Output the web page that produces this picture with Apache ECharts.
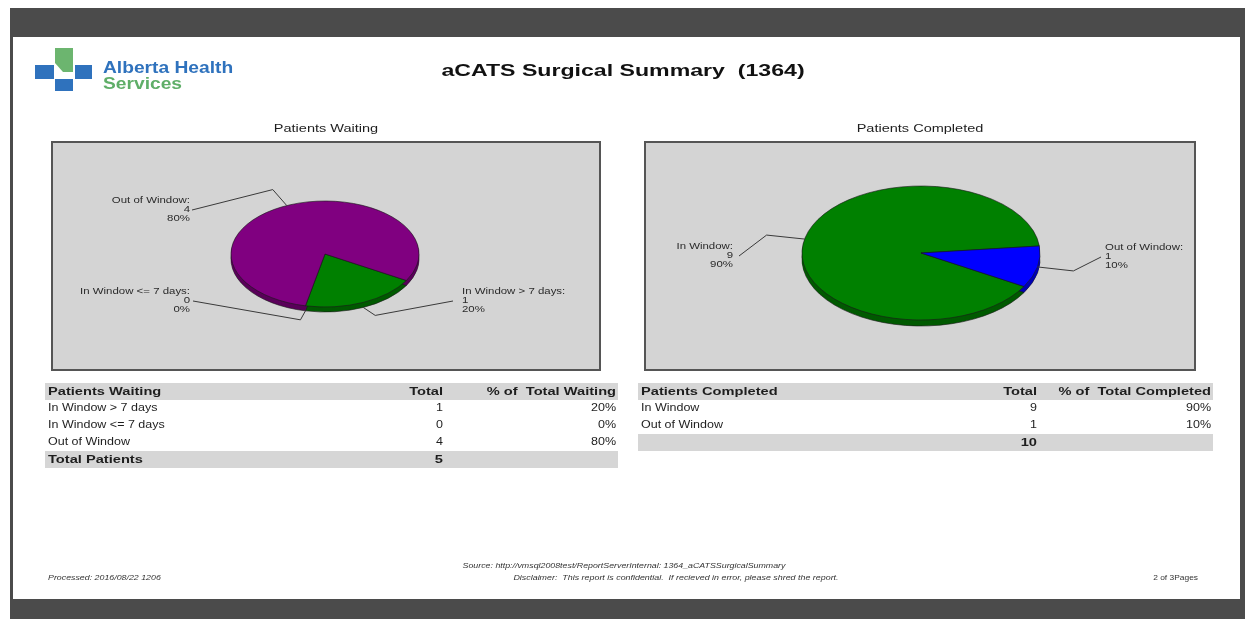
<!DOCTYPE html>
<html>
<head>
<meta charset="utf-8">
<title>aCATS Surgical Summary</title>
<script src="https://cdn.jsdelivr.net/npm/echarts@6/dist/echarts.min.js"></script>
<style>
html, body { margin: 0; padding: 0; background: #fff; }
#main { width: 1245px; height: 619px; }
</style>
</head>
<body>
<div id="main"></div>
<script>
// report values
var waitingNames = ['In Window > 7 days', 'In Window <= 7 days', 'Out of Window'];
var waitingValues = [1, 0, 4];
var completedNames = ['In Window', 'Out of Window'];
var completedValues = [9, 1];

// slice colours
var waitingColors = ['#008000', '#808080', '#800080'];
var completedColors = ['#008000', '#0000ff'];

var FONT = 'Liberation Sans, Arial, sans-serif';
var SX = 1.25; // the page scan is stretched sideways

// pie layout (screen coords), leader knee offsets and label anchors
var waitingPie = {
	cx: 325, cy: 254, rx: 94, ry: 53, depth: 5, start: 30,
	knee: [[12, 8], [-5, 9], [-14, -16]],
	anchor: [[453, 301], [193, 301], [192, 210]],
	textX: [462, 190, 190]
};
var completedPie = {
	cx: 921, cy: 253, rx: 119, ry: 67, depth: 6, start: 30,
	knee: [[-38, -4], [36, 4]],
	anchor: [[739, 256], [1101, 257]],
	textX: [733, 1105]
};

function sum(arr) {
	var s = 0;
	for (var i = 0; i < arr.length; i++) s += arr[i];
	return s;
}

function darken(hex, k) {
	var n = parseInt(hex.slice(1), 16);
	var r = Math.round(((n >> 16) & 255) * k), g = Math.round(((n >> 8) & 255) * k), b = Math.round((n & 255) * k);
	return 'rgb(' + r + ',' + g + ',' + b + ')';
}

// 3d-ish elliptical pie, one data item per slice
function pieRender(cfg, names, values, colors) {
	var total = sum(values);
	return function (params, api) {
		var i = params.dataIndex;
		var v = api.value(0);
		var before = 0;
		for (var k = 0; k < i; k++) before += values[k];
		var a0 = cfg.start * Math.PI / 180 + before / total * Math.PI * 2;
		var a1 = a0 + v / total * Math.PI * 2;
		var ratio = cfg.ry / cfg.rx;
		var children = [];
		if (a1 > a0) {
			for (var d = cfg.depth; d >= 1; d--) {
				children.push({
					type: 'sector', x: cfg.cx, y: cfg.cy + d, scaleY: ratio, z2: 1,
					shape: { cx: 0, cy: 0, r: cfg.rx, r0: 0, startAngle: a0, endAngle: a1, clockwise: true },
					style: { fill: darken(colors[i], 0.7), stroke: d === cfg.depth ? '#1a1a1a' : null, lineWidth: 0.8, strokeNoScale: true }
				});
			}
			children.push({
				type: 'sector', x: cfg.cx, y: cfg.cy, scaleY: ratio, z2: 10,
				shape: { cx: 0, cy: 0, r: cfg.rx, r0: 0, startAngle: a0, endAngle: a1, clockwise: true },
				style: { fill: colors[i], stroke: '#1a1a1a', lineWidth: 0.8, strokeNoScale: true }
			});
		}
		// leader line + label
		var m = (a0 + a1) / 2;
		var ex = cfg.cx + cfg.rx * Math.cos(m);
		var ey = cfg.cy + cfg.ry * Math.sin(m) + (Math.sin(m) > 0.5 ? cfg.depth : 0);
		var kx = ex + cfg.knee[i][0], ky = ey + cfg.knee[i][1];
		children.push({
			type: 'polyline', z2: 20,
			shape: { points: [[ex, ey], [kx, ky], cfg.anchor[i]] },
			style: { stroke: '#3a3a3a', lineWidth: 1, fill: null }
		});
		var right = cfg.textX[i] < cfg.anchor[i][0];
		children.push({
			type: 'text', x: cfg.textX[i], y: cfg.anchor[i][1], scaleX: 1.27, z2: 20,
			style: {
				text: names[i] + ':\n' + v + '\n' + Math.round(v / total * 100) + '%',
				x: 0, y: 0, align: right ? 'right' : 'left', verticalAlign: 'middle',
				fontFamily: FONT, fontSize: 9, lineHeight: 9, fill: '#2a2a2a'
			}
		});
		return { type: 'group', children: children };
	};
}

function txt(x, y, s, o) {
	o = o || {};
	return {
		type: 'text', x: x, y: y, scaleX: o.sx || SX, z: 5,
		style: {
			text: s, align: o.align || 'left', verticalAlign: 'middle',
			fontFamily: FONT, fontSize: o.size || 10, fontWeight: o.bold ? 'bold' : 'normal',
			fontStyle: o.italic ? 'italic' : 'normal', fill: o.color || '#1e1e1e'
		}
	};
}

function rect(x, y, w, h, fill, stroke, lw) {
	return { type: 'rect', z: 1, shape: { x: x, y: y, width: w, height: h },
		style: { fill: fill, stroke: stroke || null, lineWidth: lw || 0 } };
}

// summary tables built from the same arrays
function table(t, names, values, title, pctTitle, totalLabel) {
	var total = sum(values), els = [];
	var hd = { bold: true, size: 11, sx: 1.33 };
	var rowY = function (r) { return t.top + t.rowH / 2 + r * t.rowH; };
	els.push(rect(t.x0, t.top, t.x1 - t.x0, t.rowH, '#d6d6d6'));
	els.push(txt(t.x0 + 3, rowY(0), title, hd));
	els.push(txt(t.colTotal, rowY(0), 'Total', { bold: true, size: 11, sx: 1.33, align: 'right' }));
	els.push(txt(t.colPct, rowY(0), pctTitle, { bold: true, size: 11, sx: 1.33, align: 'right' }));
	for (var i = 0; i < names.length; i++) {
		els.push(txt(t.x0 + 3, rowY(i + 1), names[i]));
		els.push(txt(t.colTotal, rowY(i + 1), String(values[i]), { align: 'right' }));
		els.push(txt(t.colPct, rowY(i + 1), Math.round(values[i] / total * 100) + '%', { align: 'right' }));
	}
	var r = names.length + 1;
	els.push(rect(t.x0, t.top + r * t.rowH, t.x1 - t.x0, t.rowH, '#d6d6d6'));
	if (totalLabel) els.push(txt(t.x0 + 3, rowY(r), totalLabel, hd));
	els.push(txt(t.colTotal, rowY(r), String(total), { bold: true, size: 11, sx: 1.33, align: 'right' }));
	return els;
}

var graphics = [];
// scan border + page
graphics.push(rect(10, 8, 1235, 611, '#4b4b4b'));
graphics.push(rect(13, 37, 1227, 562, '#ffffff'));

// logo
graphics.push(rect(35, 65, 19, 14, '#2f72bd'));
graphics.push(rect(75, 65, 17, 14, '#2f72bd'));
graphics.push(rect(55, 79, 18, 12, '#2f72bd'));
graphics.push({ type: 'polygon', z: 2, shape: { points: [[55, 48], [73, 48], [73, 72], [63, 72], [55, 63]] }, style: { fill: '#6cb56f' } });
graphics.push(txt(103, 69, 'Alberta Health', { bold: true, size: 16, sx: 1.2, color: '#2f72bd' }));
graphics.push(txt(103, 85, 'Services', { bold: true, size: 16, sx: 1.2, color: '#5fae68' }));

// report title
graphics.push(txt(623, 71, 'aCATS Surgical Summary  (1364)', { bold: true, size: 17, sx: 1.36, align: 'center', color: '#111' }));

// chart frames and captions
graphics.push(rect(52, 142, 548, 228, '#d4d4d4', '#555', 2));
graphics.push(rect(645, 142, 550, 228, '#d4d4d4', '#555', 2));
graphics.push(txt(326, 129, 'Patients Waiting', { size: 11, sx: 1.32, align: 'center' }));
graphics.push(txt(920, 129, 'Patients Completed', { size: 11, sx: 1.32, align: 'center' }));

graphics = graphics.concat(table({ x0: 45, x1: 618, top: 383, rowH: 17, colTotal: 443, colPct: 616 },
	waitingNames, waitingValues, 'Patients Waiting', '% of  Total Waiting', 'Total Patients'));
graphics = graphics.concat(table({ x0: 638, x1: 1213, top: 383, rowH: 17, colTotal: 1037, colPct: 1211 },
	completedNames, completedValues, 'Patients Completed', '% of  Total Completed', ''));

// footer
graphics.push(txt(624, 566, 'Source: http://vmsql2008test/ReportServerInternal: 1364_aCATSSurgicalSummary', { size: 7, sx: 1.26, italic: true, align: 'center', color: '#333' }));
graphics.push(txt(48, 578, 'Processed: 2016/08/22 1206', { size: 7, sx: 1.26, italic: true, color: '#333' }));
graphics.push(txt(676, 578, 'Disclaimer:  This report is confidential.  If recieved in error, please shred the report.', { size: 7, sx: 1.27, italic: true, align: 'center', color: '#333' }));
graphics.push(txt(1198, 578, '2 of 3Pages', { size: 7, sx: 1.2, align: 'right', color: '#333' }));

var chart = echarts.init(document.getElementById('main'), null, { renderer: 'canvas' });
chart.setOption({
	animation: false,
	backgroundColor: '#ffffff',
	graphic: { elements: graphics },
	series: [{
		type: 'custom', coordinateSystem: 'none', z: 10,
		renderItem: pieRender(waitingPie, waitingNames, waitingValues, waitingColors),
		data: waitingValues.map(function (v) { return [v]; })
	}, {
		type: 'custom', coordinateSystem: 'none', z: 10,
		renderItem: pieRender(completedPie, completedNames, completedValues, completedColors),
		data: completedValues.map(function (v) { return [v]; })
	}]
});
</script>
</body>
</html>
